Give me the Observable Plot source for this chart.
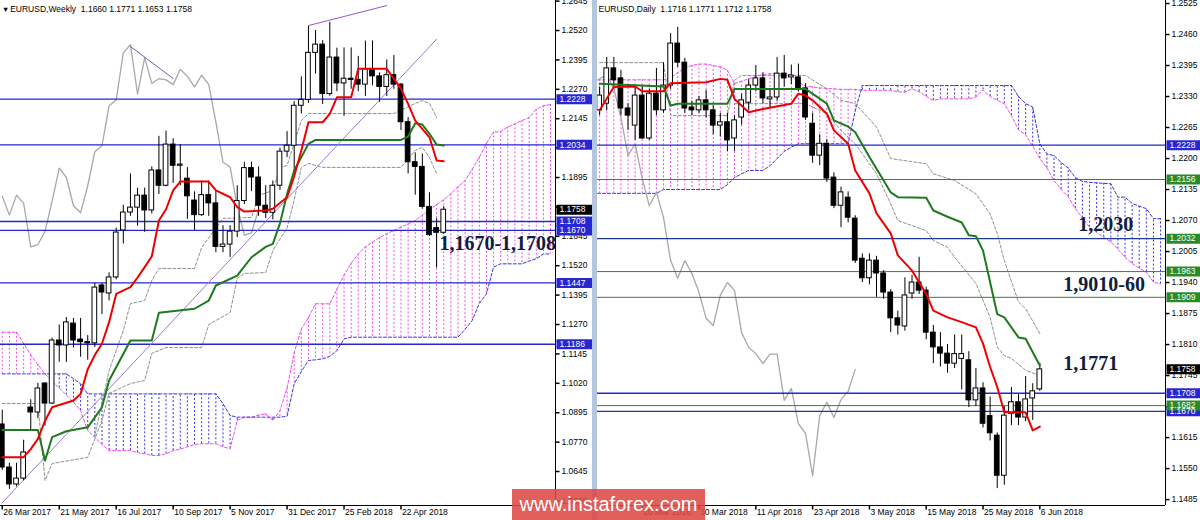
<!DOCTYPE html>
<html><head><meta charset="utf-8">
<script src="https://cdn.jsdelivr.net/npm/d3@7"></script>
<script src="https://cdn.jsdelivr.net/npm/@observablehq/plot@0.6"></script>
<style>
html,body{margin:0;padding:0;background:#fff;width:1200px;height:520px;overflow:hidden;}
#wk{position:absolute;left:0;top:0;}
#dy{position:absolute;left:597px;top:0;}
#divider{position:absolute;left:592px;top:0;width:5px;height:520px;background:#b3c6dd;}
#wm{position:absolute;left:512px;top:489px;width:193px;height:31px;background:rgba(221,74,68,0.88);color:#fff;font:20px "Liberation Sans",Arial,sans-serif;line-height:31px;text-align:center;}
svg{overflow:hidden}
</style></head><body>
<div id="wk"></div><div id="dy"></div><div id="divider"></div><div id="wm">www.instaforex.com</div>
<script>
// ---------------- WEEKLY DATA (week index 0 = 26 Mar 2017) ----------------
const wkOpen = [1.0845,1.0662,1.0590,1.0615,1.0917,1.0896,1.1019,1.0934,1.1202,1.1181,
1.1274,1.1206,1.1195,1.1190,1.1436,1.1402,1.1470,1.1670,1.1746,1.1767,
1.1818,1.1755,1.1925,1.1860,1.2035,1.1945,1.1890,1.1797,1.1735,1.1820,
1.1785,1.1600,1.1610,1.1665,1.1795,1.1935,1.1895,1.1775,1.1745,1.1860,
1.2005,1.2030,1.2200,1.2225,1.2425,1.2460,1.2250,1.2405,1.2295,1.2315,
1.2310,1.2290,1.2355,1.2325,1.2280,1.2330,1.2290,1.2130,1.1960,1.1940,
1.1770,1.1680,1.1660];
const wkHigh = [1.0906,1.0680,1.0680,1.0778,1.0950,1.1020,1.1023,1.1212,1.1268,1.1300,
1.1296,1.1296,1.1223,1.1445,1.1444,1.1490,1.1680,1.1777,1.1910,1.1850,
1.1850,1.1940,1.2070,1.2092,1.2060,1.2035,1.1937,1.1834,1.1880,1.1880,
1.1840,1.1690,1.1690,1.1860,1.1960,1.1960,1.1940,1.1860,1.1880,1.2020,
1.2090,1.2218,1.2323,1.2537,1.2520,1.2477,1.2555,1.2445,1.2446,1.2446,
1.2410,1.2475,1.2476,1.2340,1.2395,1.2414,1.2295,1.2150,1.2000,1.1995,
1.1830,1.1720,1.1771];
const wkLow = [1.0650,1.0569,1.0580,1.0605,1.0821,1.0870,1.0838,1.0930,1.1110,1.1109,
1.1170,1.1131,1.1118,1.1172,1.1312,1.1370,1.1460,1.1612,1.1730,1.1688,
1.1662,1.1740,1.1823,1.1855,1.1870,1.1860,1.1717,1.1670,1.1730,1.1730,
1.1575,1.1575,1.1555,1.1640,1.1780,1.1835,1.1730,1.1720,1.1715,1.1840,
1.1980,1.1915,1.2165,1.2210,1.2335,1.2205,1.2240,1.2260,1.2155,1.2270,
1.2260,1.2240,1.2285,1.2215,1.2240,1.2270,1.2095,1.1910,1.1820,1.1760,
1.1645,1.1510,1.1653];
const wkClose = [1.0662,1.0590,1.0615,1.0726,1.0896,1.0998,1.0934,1.1202,1.1181,1.1279,
1.1202,1.1195,1.1190,1.1427,1.1406,1.1470,1.1661,1.1746,1.1767,1.1818,
1.1755,1.1925,1.1860,1.2035,1.1945,1.1950,1.1815,1.1735,1.1820,1.1785,
1.1600,1.1610,1.1665,1.1795,1.1935,1.1895,1.1775,1.1745,1.1860,1.2005,
1.2030,1.2200,1.2225,1.2425,1.2460,1.2250,1.2405,1.2295,1.2315,1.2310,
1.2290,1.2355,1.2325,1.2280,1.2330,1.2290,1.2130,1.1960,1.1940,1.1770,
1.1650,1.1660,1.1758];
// Senkou spans, one value per week (index 0..77)
const wkSpanA = [1.1237,1.1237,1.1237,1.1190,1.1140,1.1100,1.1060,1.1030,1.1000,1.0970,
1.0940,1.0904,1.0819,1.0790,1.0760,1.0734,1.0734,1.0734,1.0734,1.0725,
1.0720,1.0713,1.0713,1.0720,1.0734,1.0740,1.0750,1.0760,1.0763,1.0763,
1.0763,1.0750,1.0742,1.0862,1.0876,1.0876,1.0885,1.0890,1.0862,1.0904,
1.1000,1.1150,1.1250,1.1300,1.1358,1.1358,1.1358,1.1420,1.1480,1.1530,
1.1570,1.1600,1.1620,1.1640,1.1656,1.1670,1.1684,1.1698,1.1712,1.1735,
1.1755,1.1780,1.1800,1.1826,1.1855,1.1882,1.1930,1.1981,1.2040,1.2088,
1.2090,1.2110,1.2123,1.2137,1.2150,1.2185,1.2200,1.2205];
const wkSpanB = [1.1060,1.1060,1.1060,1.1060,1.1060,1.1060,1.1060,1.1060,1.1060,1.1060,
1.1040,1.1018,1.0975,1.0975,1.0975,1.0975,1.0975,1.0975,1.0975,1.0975,
1.0975,1.0975,1.0975,1.0975,1.0975,1.0975,1.0975,1.0975,1.0975,1.0975,
1.0975,1.0933,1.0883,1.0876,1.0876,1.0876,1.0876,1.0876,1.0876,1.0876,
1.0880,1.1018,1.1070,1.1117,1.1120,1.1124,1.1135,1.1159,1.1209,1.1216,
1.1216,1.1216,1.1216,1.1216,1.1216,1.1216,1.1216,1.1216,1.1216,1.1216,
1.1216,1.1216,1.1216,1.1216,1.1216,1.1250,1.1287,1.1360,1.1400,1.1514,
1.1528,1.1528,1.1528,1.1528,1.1540,1.1550,1.1570,1.1570];
// [week index, price] break points
const wkTenkan = [[0,1.0706],[3,1.0706],[4,1.0740],[5,1.0784],[6,1.0860],[7,1.0918],[10,1.0947],[11,1.0975],[12,1.1080],[13,1.1140],[14,1.1188],[15,1.1280],[16,1.1400],[18,1.1429],[19,1.1470],[20,1.1514],[21,1.1560],[22,1.1712],[23,1.1760],[24,1.1840],[25,1.1878],[29,1.1878],[30,1.1840],[32,1.1811],[33,1.1769],[34,1.1750],[37,1.1755],[38,1.1762],[40,1.1811],[41,1.1900],[42,1.2010],[43,1.2130],[45,1.2130],[46,1.2166],[47,1.2236],[49,1.2236],[50,1.2357],[54,1.2357],[55,1.2315],[56,1.2272],[57,1.2208],[58,1.2137],[60,1.2066],[61,1.1967],[62,1.1964]];
const wkKijun = [[0,1.0822],[5,1.0822],[6,1.0692],[7,1.0791],[9,1.0816],[12,1.0833],[14,1.0918],[15,1.1032],[18,1.1202],[21,1.1202],[22,1.1320],[27,1.1337],[29,1.1372],[30,1.1436],[33,1.1478],[35,1.1556],[37,1.1600],[38,1.1613],[39,1.1700],[40,1.1825],[41,1.1925],[43,1.2038],[44,1.2055],[56,1.2055],[57,1.2069],[58,1.2126],[59,1.2120],[60,1.2081],[61,1.2035],[62,1.2031]];
const wkDashA = [[0,1.0934],[5,1.0934],[6,1.0607],[7,1.0679],[12,1.0705],[14,1.0862],[15,1.0977],[18,1.1019],[20,1.1032],[21,1.1147],[23,1.1172],[28,1.1172],[29,1.1270],[32,1.1321],[33,1.1466],[34,1.1487],[37,1.1491],[38,1.1585],[40,1.1680],[41,1.1800],[42,1.1938],[43,1.1955],[45,1.1938],[56,1.1938],[58,1.2010],[59,1.2023],[60,1.1980],[61,1.1912]];
const wkDashB = [[13,1.0800],[14,1.0934],[15,1.1074],[17,1.1244],[18,1.1359],[20,1.1372],[21,1.1457],[22,1.1508],[27,1.1508],[28,1.1597],[31,1.1721],[35,1.1725],[36,1.1818],[38,1.1840],[39,1.1938],[40,1.1946],[42,1.2137],[43,1.2167],[55,1.2167],[58,1.2210],[59,1.2222],[60,1.2210],[61,1.2150]];
const wkTrendSupport = [[0,1.0512],[61,1.2483]];
const wkTrendTop = [[43,1.2541],[54,1.2626]];
const wkTrendChikou = [[18,1.2452],[24,1.2316]];
const wkLevels = [1.2228,1.2034,1.1708,1.1670,1.1447,1.1186];
const wkLast = 1.1758;
const wkYTicks = [1.2645,1.2520,1.2395,1.2270,1.2145,1.2020,1.1895,1.1770,1.1645,1.1520,1.1395,1.1270,1.1145,1.1020,1.0895,1.0770,1.0645,1.0520];
const wkXTickIdx = [0,8,16,24,32,40,48,56];
const wkXTickLabels = ["26 Mar 2017","21 May 2017","16 Jul 2017","10 Sep 2017","5 Nov 2017","31 Dec 2017","25 Feb 2018","22 Apr 2018"];
const wkHeader = "\u25BE EURUSD,Weekly  1.1660 1.1771 1.1653 1.1758";

// ---------------- DAILY DATA (day index 1 = 12 Mar 2018 ... 63 = 6 Jun 2018) ----------------
const dyOpen = [1.2301,1.2315,1.2389,1.2368,1.2305,1.2269,1.2332,1.2242,1.2336,1.2301,
1.2353,1.2441,1.2401,1.2307,1.2301,1.2322,1.2301,1.2269,1.2276,1.2242,
1.2286,1.2317,1.2353,1.2368,1.2324,1.2328,1.2378,1.2370,1.2370,1.2347,
1.2273,1.2206,1.2231,1.2160,1.2101,1.2118,1.2074,1.1990,1.1949,1.1986,
1.1959,1.1919,1.1865,1.1848,1.1917,1.1940,1.1923,1.1835,1.1804,1.1791,
1.1770,1.1780,1.1777,1.1693,1.1718,1.1660,1.1619,1.1535,1.1665,1.1689,
1.1657,1.1697,1.1716];
const dyHigh = [1.2350,1.2412,1.2412,1.2385,1.2315,1.2353,1.2353,1.2345,1.2389,1.2401,
1.2462,1.2475,1.2410,1.2320,1.2330,1.2343,1.2310,1.2295,1.2295,1.2290,
1.2335,1.2365,1.2395,1.2380,1.2345,1.2412,1.2416,1.2396,1.2398,1.2357,
1.2295,1.2250,1.2240,1.2170,1.2140,1.2130,1.2080,1.2000,1.2000,1.1995,
1.1965,1.1925,1.1880,1.1950,1.1955,1.1993,1.1930,1.1850,1.1835,1.1810,
1.1830,1.1830,1.1795,1.1760,1.1730,1.1700,1.1625,1.1680,1.1720,1.1705,
1.1743,1.1728,1.1771];
const dyLow = [1.2290,1.2300,1.2350,1.2290,1.2259,1.2238,1.2240,1.2238,1.2290,1.2295,
1.2345,1.2390,1.2295,1.2290,1.2295,1.2285,1.2250,1.2245,1.2215,1.2215,
1.2270,1.2300,1.2340,1.2315,1.2305,1.2320,1.2350,1.2355,1.2340,1.2280,
1.2190,1.2185,1.2150,1.2095,1.2055,1.2065,1.1980,1.1940,1.1935,1.1909,
1.1905,1.1835,1.1830,1.1838,1.1905,1.1915,1.1820,1.1770,1.1763,1.1750,
1.1760,1.1715,1.1678,1.1680,1.1635,1.1608,1.1508,1.1515,1.1640,1.1640,
1.1648,1.1651,1.1712];
const dyClose = [1.2332,1.2389,1.2364,1.2305,1.2290,1.2332,1.2242,1.2336,1.2301,1.2353,
1.2441,1.2401,1.2305,1.2301,1.2322,1.2301,1.2269,1.2276,1.2238,1.2280,
1.2322,1.2353,1.2368,1.2326,1.2328,1.2378,1.2368,1.2374,1.2347,1.2286,
1.2206,1.2231,1.2158,1.2101,1.2129,1.2076,1.1986,1.1949,1.1986,1.1959,
1.1919,1.1865,1.1850,1.1913,1.1940,1.1923,1.1835,1.1804,1.1791,1.1770,
1.1790,1.1790,1.1693,1.1718,1.1644,1.1624,1.1535,1.1661,1.1689,1.1657,
1.1695,1.1712,1.1758];
// Senkou spans, one value per day (index 0..80)
const dySpanA = [1.2365,1.2365,1.2365,1.2365,1.2365,1.2365,1.2365,1.2365,1.2365,1.2365,1.2365,
1.2370,1.2380,1.2390,1.2395,1.2398,1.2398,1.2395,1.2392,1.2385,
1.2357,1.2362,1.2367,1.2372,1.2376,1.2378,1.2378,1.2378,1.2375,1.2360,
1.2352,1.2350,1.2348,1.2347,1.2346,1.2345,1.2345,1.2345,1.2343,1.2343,
1.2343,1.2343,1.2343,1.2340,1.2339,1.2346,1.2340,1.2330,1.2322,1.2325,
1.2325,1.2325,1.2325,1.2325,1.2329,1.2344,1.2330,1.2322,1.2315,1.2290,
1.2260,1.2250,1.2226,1.2200,1.2180,1.2154,1.2135,1.2120,1.2095,1.2075,
1.2056,1.2045,1.2035,1.2025,1.2010,1.1993,1.1980,1.1970,1.1962,1.1941,
1.1937];
const dySpanB = [1.2127,1.2127,1.2127,1.2127,1.2127,1.2127,1.2127,1.2127,1.2127,1.2127,
1.2135,1.2135,1.2135,1.2135,1.2135,1.2135,1.2135,1.2135,1.2135,1.2145,
1.2160,1.2168,1.2175,1.2175,1.2175,1.2185,1.2200,1.2215,1.2224,1.2231,
1.2231,1.2231,1.2231,1.2231,1.2231,1.2231,1.2231,1.2300,1.2353,1.2353,
1.2353,1.2353,1.2353,1.2353,1.2353,1.2353,1.2353,1.2353,1.2353,1.2353,
1.2353,1.2353,1.2353,1.2353,1.2353,1.2353,1.2353,1.2353,1.2353,1.2353,
1.2330,1.2315,1.2308,1.2230,1.2210,1.2206,1.2192,1.2180,1.2160,1.2152,
1.2150,1.2149,1.2148,1.2147,1.2119,1.2119,1.2106,1.2100,1.2095,1.2074,
1.2074];
const dyTenkan = [[1,1.2301],[3,1.2350],[6,1.2351],[7,1.2341],[10,1.2341],[11,1.2358],[16,1.2360],[18,1.2367],[19,1.2365],[20,1.2325],[22,1.2297],[24,1.2304],[28,1.2315],[29,1.2336],[30,1.2332],[31,1.2322],[33,1.2294],[34,1.2259],[36,1.2231],[37,1.2175],[39,1.2127],[40,1.2085],[42,1.2043],[43,1.1997],[45,1.1965],[47,1.1916],[48,1.1881],[50,1.1867],[52,1.1857],[54,1.1846],[55,1.1812],[56,1.1763],[57,1.1721],[58,1.1668],[61,1.1668],[62,1.1630],[63,1.1638]];
const dyKijun = [[1,1.2357],[10,1.2351],[11,1.2311],[12,1.2315],[19,1.2315],[20,1.2346],[30,1.2346],[33,1.2315],[34,1.2280],[36,1.2267],[37,1.2255],[39,1.2203],[41,1.2154],[42,1.2129],[43,1.2119],[47,1.2118],[48,1.2091],[50,1.2078],[52,1.2066],[53,1.2039],[54,1.2037],[55,1.2007],[57,1.1874],[58,1.1867],[60,1.1825],[61,1.1822],[63,1.1766]];
const dyDashA = [[1,1.2401],[10,1.2401],[11,1.2290],[19,1.2290],[20,1.2364],[21,1.2374],[30,1.2374],[33,1.2346],[35,1.2322],[37,1.2315],[40,1.2266],[42,1.2200],[47,1.2189],[48,1.2168],[51,1.2154],[54,1.2126],[56,1.2084],[57,1.2043],[58,1.1986],[60,1.1899],[61,1.1885],[63,1.1833]];
const dyDashB = [[20,1.2315],[30,1.2315],[33,1.2294],[35,1.2259],[37,1.2231],[40,1.2168],[42,1.2105],[43,1.2070],[47,1.2049],[48,1.2028],[50,1.2014],[51,1.1993],[54,1.1938],[56,1.1867],[57,1.1805],[58,1.1787],[59,1.1781],[61,1.1756],[63,1.1745]];
const dyLevels = [1.2228,1.2156,1.2032,1.1963,1.1909,1.1708,1.1670,1.1682];
const dyLevelKinds = ["blue","green","navy","green","green","blue","blue","green"];
const dyLast = 1.1758;
const dyYTicks = [1.2525,1.2460,1.2395,1.2330,1.2265,1.2200,1.2135,1.2070,1.2005,1.1940,1.1875,1.1810,1.1745,1.1680,1.1615,1.1550,1.1485];
const dyXTickIdx = [7,15,23,31,39,47,55,63];
const dyXTickLabels = ["20 Mar 2018","30 Mar 2018","11 Apr 2018","23 Apr 2018","3 May 2018","15 May 2018","25 May 2018","6 Jun 2018"];
const dyHeader = "EURUSD,Daily  1.1716 1.1771 1.1712 1.1758";

// annotations: [text, index, price]
const wkNotes = [["1,1670-1,1708", 61.4, 1.1616]];
const dyNotes = [["1,2030", 68.4, 1.2062], ["1,9010-60", 66.3, 1.1936], ["1,1771", 66.3, 1.1771]];

// ---------------- styling ----------------
const FONT = "'Liberation Sans', Arial, 'DejaVu Sans', sans-serif";
const SERIF = "'Liberation Serif', 'Times New Roman', serif";
const PINK = "#ee4dee", CBLUE = "#3535e0", RED = "#ee0000", GREEN = "#1d7a1d";
const GREY = "#a8a8a8", GREYD = "#8f8f8f", NAVYTXT = "#111d3c";
const LBLUE = "#2626d2", LGREEN = "#3a7d3a", LNAVY = "#1e3a8e", BOXGREEN = "#2a8a2a";
const hSym = {draw(ctx){ ctx.moveTo(0,0); ctx.lineTo(4,0); }};
const vSym = {draw(ctx){ ctx.moveTo(0,0); ctx.lineTo(0,4); }};
const boxSym = (w,h) => ({draw(ctx){ ctx.rect(0,-h/2,w,h); }});

function candles(rows){
  return [
    Plot.ruleX(rows, {x:"i", y1:"l", y2:"h", stroke:"#000", strokeWidth:1, clip:true}),
    Plot.rect(rows, {x1:d=>d.i-0.33, x2:d=>d.i+0.33, y1:"o", y2:"c", fill:d=>d.c>=d.o?"#fff":"#000", stroke:"#000", strokeWidth:1, clip:true})
  ];
}
function cloud(rows){
  return [
    Plot.ruleX(rows, {x:"i", y1:"a", y2:"b", stroke:d=>d.a>=d.b?PINK:CBLUE, strokeDasharray:"2,2", strokeWidth:1, clip:true}),
    Plot.line(rows, {x:"i", y:"a", stroke:PINK, strokeDasharray:"3,2", strokeWidth:1, clip:true}),
    Plot.line(rows, {x:"i", y:"b", stroke:CBLUE, strokeDasharray:"3,2", strokeWidth:1, clip:true})
  ];
}
const pl = (pts, o) => Plot.line(pts, {x:d=>d[0], y:d=>d[1], clip:true, ...o});
// tick labels hidden behind a price box (as on the terminal) are not drawn
const visibleTicks = (ticks, boxes, gap) => ticks.filter(t => boxes.every(b => Math.abs(b.v - t) >= gap));
function axes(xDom, yDom, yTicks, yLabelTicks, xIdx, xLabels){
  return [
    Plot.ruleX([xDom[1]], {stroke:"#000", strokeWidth:1}),
    Plot.ruleY([yDom[0]], {stroke:"#000", strokeWidth:1}),
    Plot.dot(yTicks, {y:d=>d, frameAnchor:"right", symbol:hSym, stroke:"#000", r:3}),
    Plot.text(yLabelTicks, {y:d=>d, text:d=>d.toFixed(4), frameAnchor:"right", textAnchor:"start", dx:6, fontSize:8.5, fill:"#000"}),
    Plot.dot(xIdx, {x:d=>d, frameAnchor:"bottom", symbol:vSym, stroke:"#000", r:3}),
    Plot.text(xIdx, {x:d=>d, text:(d,k)=>xLabels[k], frameAnchor:"bottom", textAnchor:"start", dx:1, dy:9, fontSize:8.5, fill:"#000"})
  ];
}
function levelBoxes(rows, boxW){
  return [
    Plot.dot(rows, {y:"v", frameAnchor:"right", symbol:boxSym(boxW,10), fill:"fill", stroke:null, dx:1, r:3}),
    Plot.text(rows, {y:"v", text:d=>d.v.toFixed(4), frameAnchor:"right", textAnchor:"start", dx:4, fontSize:8.5, fill:"#fff"})
  ];
}

// ---------------- WEEKLY PANEL ----------------
const wkRows = wkOpen.map((o,i)=>({i, o, h:wkHigh[i], l:wkLow[i], c:wkClose[i]}));
const wkCloud = wkSpanA.map((a,i)=>({i, a, b:wkSpanB[i]}));
const wkChikou = wkRows.filter(d=>d.i>=26).map(d=>({i:d.i-26, v:d.c}));
const wkXDom = [-0.25, 77.7], wkYDom = [1.05005, 1.26476];
const wkBoxes = wkLevels.map(v=>({v, fill:LBLUE})).concat([{v:wkLast, fill:"#000"}]);

const wk = Plot.plot({
  width:597, height:520, marginLeft:0, marginTop:0, marginRight:42, marginBottom:15,
  x:{domain:wkXDom, axis:null}, y:{domain:wkYDom, axis:null},
  style:{background:"#fff", fontFamily:FONT, fontSize:"8.5px"},
  marks:[
    ...cloud(wkCloud),
    pl(wkDashA, {stroke:GREYD, strokeDasharray:"3,2", strokeWidth:1}),
    pl(wkDashB, {stroke:GREYD, strokeDasharray:"3,2", strokeWidth:1}),
    Plot.line(wkChikou, {x:"i", y:"v", stroke:GREY, strokeWidth:1.3, clip:true}),
    Plot.ruleY(wkLevels, {stroke:LBLUE, strokeWidth:1.3, clip:true}),
    pl(wkTrendSupport, {stroke:"#9a7ad8", strokeWidth:1}),
    pl(wkTrendTop, {stroke:"#a24fd0", strokeWidth:1}),
    pl(wkTrendChikou, {stroke:"#6f5bb5", strokeWidth:1}),
    ...candles(wkRows),
    pl(wkKijun, {stroke:GREEN, strokeWidth:2}),
    pl(wkTenkan, {stroke:RED, strokeWidth:2}),
    ...axes(wkXDom, wkYDom, wkYTicks, visibleTicks(wkYTicks, wkBoxes, 0.0020), wkXTickIdx, wkXTickLabels),
    ...levelBoxes(wkBoxes, 36),
    Plot.text([wkHeader], {text:d=>d, frameAnchor:"top-left", textAnchor:"start", dx:3, dy:5, fontSize:8.5, fill:"#000"}),
    Plot.text(wkNotes, {x:d=>d[1], y:d=>d[2], text:d=>d[0], textAnchor:"start", fontFamily:SERIF, fontWeight:"bold", fontSize:20, fill:NAVYTXT})
  ]
});
document.getElementById("wk").appendChild(wk);

// ---------------- DAILY PANEL ----------------
const dyRows = dyOpen.map((o,k)=>({i:k+1, o, h:dyHigh[k], l:dyLow[k], c:dyClose[k]}));
const dyCloud = dySpanA.map((a,i)=>({i, a, b:dySpanB[i]}));
const dyChikou = dyRows.filter(d=>d.i>=27).map(d=>({i:d.i-26, v:d.c}));
const dyXDom = [0.70, 80.70], dyYDom = [1.14726, 1.25313];
const kindStroke = {blue:LBLUE, green:LGREEN, navy:LNAVY};
const kindWidth = {blue:1.4, green:1, navy:1.3};
const kindBox = {blue:LBLUE, green:BOXGREEN, navy:BOXGREEN};
const dyLevelRows = dyLevels.map((v,k)=>({v, kind:dyLevelKinds[k]}));
const dyBoxes = dyLevelRows.map(d=>({v:d.v, fill:kindBox[d.kind]})).concat([{v:dyLast, fill:"#000"}]);

const dy = Plot.plot({
  width:603, height:520, marginLeft:0, marginTop:0, marginRight:35, marginBottom:15,
  x:{domain:dyXDom, axis:null}, y:{domain:dyYDom, axis:null},
  style:{background:"#fff", fontFamily:FONT, fontSize:"8.5px"},
  marks:[
    ...cloud(dyCloud),
    pl(dyDashA, {stroke:GREYD, strokeDasharray:"3,2", strokeWidth:1}),
    pl(dyDashB, {stroke:GREYD, strokeDasharray:"3,2", strokeWidth:1}),
    Plot.line(dyChikou, {x:"i", y:"v", stroke:GREY, strokeWidth:1.3, clip:true}),
    Plot.ruleY(dyLevelRows, {y:"v", stroke:d=>kindStroke[d.kind], strokeWidth:d=>kindWidth[d.kind], clip:true}),
    ...candles(dyRows),
    pl(dyKijun, {stroke:GREEN, strokeWidth:2}),
    pl(dyTenkan, {stroke:RED, strokeWidth:2}),
    ...axes(dyXDom, dyYDom, dyYTicks, visibleTicks(dyYTicks, dyBoxes, 0.0012), dyXTickIdx, dyXTickLabels),
    ...levelBoxes(dyBoxes, 34),
    Plot.text([dyHeader], {text:d=>d, frameAnchor:"top-left", textAnchor:"start", dx:1, dy:5, fontSize:8.5, fill:"#000"}),
    Plot.text(dyNotes, {x:d=>d[1], y:d=>d[2], text:d=>d[0], textAnchor:"start", fontFamily:SERIF, fontWeight:"bold", fontSize:20, fill:NAVYTXT})
  ]
});
document.getElementById("dy").appendChild(dy);
</script></body></html>
